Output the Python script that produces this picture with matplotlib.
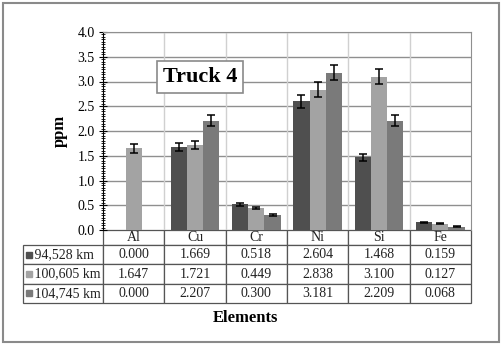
import numpy as np
import matplotlib
matplotlib.use('Agg')
import matplotlib.pyplot as plt
import matplotlib.ticker as ticker
from matplotlib.patches import Rectangle

# data
elements = ['Al', 'Cu', 'Cr', 'Ni', 'Si', 'Fe']
series = ['94,528 km', '100,605 km', '104,745 km']
km_94528 = [0.000, 1.669, 0.518, 2.604, 1.468, 0.159]
km_100605 = [1.647, 1.721, 0.449, 2.838, 3.100, 0.127]
km_104745 = [0.000, 2.207, 0.300, 3.181, 2.209, 0.068]
err_94528 = [0.000, 0.083, 0.026, 0.130, 0.073, 0.008]
err_100605 = [0.082, 0.086, 0.022, 0.142, 0.155, 0.006]
err_104745 = [0.000, 0.110, 0.015, 0.159, 0.110, 0.003]
colors = ['#4f4f4f', '#a3a3a3', '#7a7a7a']

values = [km_94528, km_100605, km_104745]
errors = [err_94528, err_100605, err_104745]

plt.rcParams['font.family'] = ['Liberation Serif', 'DejaVu Serif']

fig = plt.figure(figsize=(5.04, 3.45), dpi=100)
ax = fig.add_axes([103 / 504, 1 - 230 / 345, 368 / 504, 198 / 345])

# outer frame
fig.patches.append(Rectangle((3 / 504, 3 / 345), 496 / 504, 339 / 345,
                             transform=fig.transFigure, fill=False,
                             edgecolor='#8a8a8a', linewidth=1.5))

x = np.arange(len(elements))
width = 0.265
for i in range(3):
    pos = x + (i - 1) * width
    ax.bar(pos, values[i], width, color=colors[i], zorder=3)
    yerr = np.array(errors[i])
    mask = np.array(values[i]) > 0
    ax.errorbar(pos[mask], np.array(values[i])[mask], yerr=yerr[mask],
                fmt='none', ecolor='black', elinewidth=1.1, capsize=3,
                capthick=1.1, zorder=4)

ax.set_xlim(-0.5, len(elements) - 0.5)
ax.set_ylim(0, 4.0)
ax.yaxis.set_major_locator(ticker.MultipleLocator(0.5))
ax.yaxis.set_minor_locator(ticker.MultipleLocator(0.05))
ax.yaxis.set_major_formatter(ticker.FormatStrFormatter('%.1f'))
ax.tick_params(axis='y', which='major', direction='inout', length=6,
               labelsize=10, pad=3)
ax.tick_params(axis='y', which='minor', direction='inout', length=3)
ax.set_xticks([])

# grid
for v in np.arange(0.5, 4.01, 0.5):
    ax.axhline(v, color='#8f8f8f', linewidth=1.0, zorder=1)
for b in np.arange(0.5, len(elements) - 0.5, 1):
    ax.axvline(b, color='#d0d0d0', linewidth=1.0, zorder=1)
ax.spines['top'].set_color('#8f8f8f')
ax.spines['right'].set_color('#8f8f8f')
ax.spines['bottom'].set_visible(False)

ax.set_ylabel('ppm', fontsize=12, fontweight='bold', labelpad=7)

ax.text(1.08, 3.09, 'Truck 4', fontsize=16, fontweight='bold',
        ha='center', va='center', zorder=6,
        bbox=dict(boxstyle='square,pad=0.25', facecolor='white',
                  edgecolor='#8a8a8a', linewidth=1.2))

# data table below
label_w = 80 / 368
cell_text = [[''] + elements]
for i in range(3):
    cell_text.append(['   ' + series[i]] + ['%.3f' % v for v in values[i]])
tbl = ax.table(cellText=cell_text, cellLoc='center',
               bbox=[-label_w, -73 / 198, 1 + label_w, 73 / 198])
tbl.auto_set_font_size(False)
tbl.set_fontsize(10)
row_h = [15, 19.3, 19.3, 19.3]
for (r, c), cell in tbl.get_celld().items():
    cell.set_height(row_h[r])
    cell.set_width(80 if c == 0 else 368 / 6)
    cell.set_edgecolor('#555555')
    cell.set_linewidth(0.9)
    cell.get_text().set_color('#222222')
    if c == 0:
        cell.get_text().set_ha('left')
        cell._loc = 'left'
        cell.PAD = 0.015
tbl[(0, 0)].set_edgecolor('none')

# legend keys in the row label cells
y_rows = [(-15 - 19.3 * (i + 0.5)) / 198 for i in range(3)]
for i in range(3):
    ax.plot(-label_w + 6 / 368, y_rows[i], marker='s', markersize=4.5,
            color=colors[i], transform=ax.transAxes, clip_on=False, zorder=7)

fig.text(245 / 504, 1 - 318 / 345, 'Elements', fontsize=12,
         fontweight='bold', ha='center', va='center')

fig.savefig('out.png', dpi=100)
